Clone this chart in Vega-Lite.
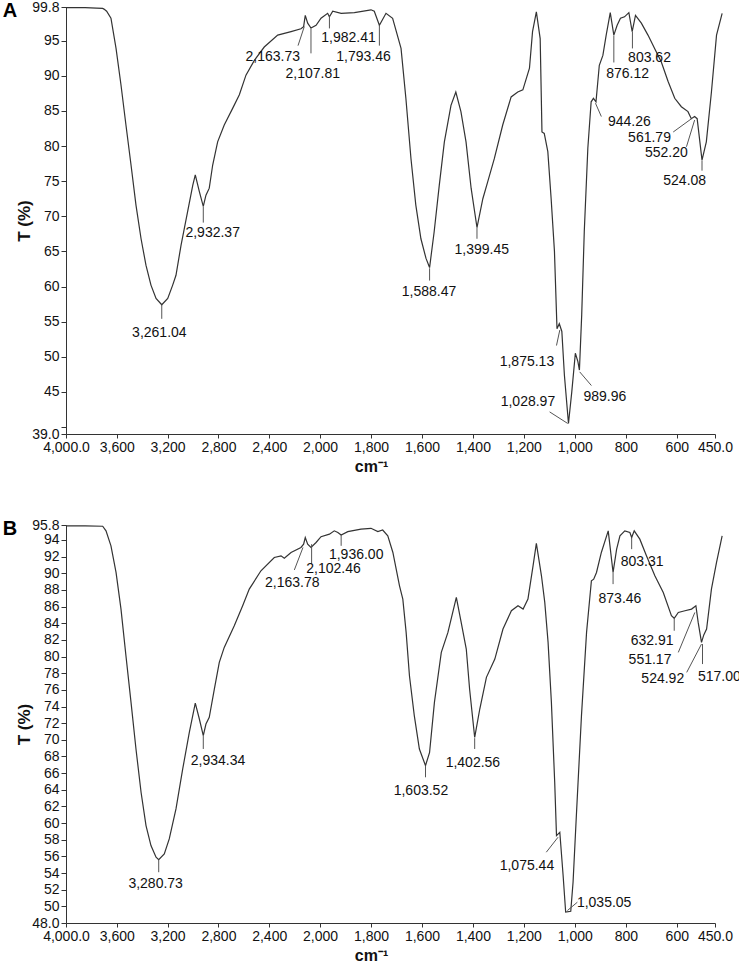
{
  "$schema": "https://vega.github.io/schema/vega-lite/v6.json",
  "padding": {"left": 2, "top": 0, "right": 0, "bottom": 0},
  "background": "white",
  "config": {
    "font": "Liberation Sans",
    "view": {"stroke": null},
    "axis": {
      "labelFont": "Liberation Sans", "labelFontSize": 14, "labelColor": "#111",
      "titleFont": "Liberation Sans", "titleColor": "#111",
      "domainColor": "#333", "tickColor": "#333", "grid": false,
      "labelOverlap": false, "labelFlush": false, "labelBound": false, "tickCount": 100
    }
  },
  "spacing": 44,
  "datasets": {
    "specA": [
      {"wavenumber": 4000, "T": 99.7}, {"wavenumber": 3850, "T": 99.7}, {"wavenumber": 3760, "T": 99.65},
      {"wavenumber": 3711, "T": 99.6}, {"wavenumber": 3701, "T": 99.5}, {"wavenumber": 3680, "T": 99.2},
      {"wavenumber": 3646, "T": 98.2}, {"wavenumber": 3606, "T": 93.9}, {"wavenumber": 3567, "T": 88.7},
      {"wavenumber": 3528, "T": 83.0}, {"wavenumber": 3488, "T": 77.3}, {"wavenumber": 3449, "T": 71.6},
      {"wavenumber": 3409, "T": 66.8}, {"wavenumber": 3370, "T": 63.0}, {"wavenumber": 3331, "T": 60.2},
      {"wavenumber": 3291, "T": 58.3}, {"wavenumber": 3246, "T": 57.4}, {"wavenumber": 3199, "T": 58.3},
      {"wavenumber": 3160, "T": 60.2}, {"wavenumber": 3134, "T": 61.6}, {"wavenumber": 3094, "T": 65.9},
      {"wavenumber": 3042, "T": 70.7}, {"wavenumber": 3002, "T": 74.4}, {"wavenumber": 2982, "T": 75.9},
      {"wavenumber": 2950, "T": 73.5}, {"wavenumber": 2919, "T": 71.4}, {"wavenumber": 2898, "T": 73.0},
      {"wavenumber": 2872, "T": 74.0}, {"wavenumber": 2845, "T": 77.3}, {"wavenumber": 2806, "T": 80.6},
      {"wavenumber": 2754, "T": 83.0}, {"wavenumber": 2687, "T": 85.4}, {"wavenumber": 2635, "T": 87.3},
      {"wavenumber": 2583, "T": 90.1}, {"wavenumber": 2517, "T": 92.2}, {"wavenumber": 2439, "T": 94.1},
      {"wavenumber": 2333, "T": 95.8}, {"wavenumber": 2228, "T": 96.3}, {"wavenumber": 2150, "T": 96.7},
      {"wavenumber": 2129, "T": 97.0}, {"wavenumber": 2116, "T": 98.6}, {"wavenumber": 2097, "T": 97.5},
      {"wavenumber": 2071, "T": 96.8}, {"wavenumber": 2031, "T": 97.2}, {"wavenumber": 1996, "T": 98.2},
      {"wavenumber": 1970, "T": 98.9}, {"wavenumber": 1963, "T": 98.4}, {"wavenumber": 1950, "T": 99.2},
      {"wavenumber": 1917, "T": 98.9}, {"wavenumber": 1865, "T": 99.0}, {"wavenumber": 1800, "T": 99.4},
      {"wavenumber": 1787, "T": 99.2}, {"wavenumber": 1767, "T": 97.2}, {"wavenumber": 1741, "T": 98.9},
      {"wavenumber": 1715, "T": 98.2}, {"wavenumber": 1682, "T": 93.9}, {"wavenumber": 1663, "T": 86.8},
      {"wavenumber": 1643, "T": 78.2}, {"wavenumber": 1624, "T": 71.6}, {"wavenumber": 1604, "T": 66.8},
      {"wavenumber": 1584, "T": 64.0}, {"wavenumber": 1570, "T": 62.7}, {"wavenumber": 1552, "T": 67.8},
      {"wavenumber": 1532, "T": 74.4}, {"wavenumber": 1512, "T": 80.6}, {"wavenumber": 1486, "T": 85.8},
      {"wavenumber": 1467, "T": 87.7}, {"wavenumber": 1447, "T": 84.9}, {"wavenumber": 1427, "T": 80.6},
      {"wavenumber": 1407, "T": 74.0}, {"wavenumber": 1384, "T": 68.4}, {"wavenumber": 1361, "T": 72.5},
      {"wavenumber": 1342, "T": 74.9}, {"wavenumber": 1316, "T": 78.2}, {"wavenumber": 1283, "T": 83.0},
      {"wavenumber": 1250, "T": 87.0}, {"wavenumber": 1224, "T": 87.7}, {"wavenumber": 1204, "T": 88.0},
      {"wavenumber": 1178, "T": 91.1}, {"wavenumber": 1166, "T": 96.3}, {"wavenumber": 1151, "T": 99.1},
      {"wavenumber": 1136, "T": 95.3}, {"wavenumber": 1129, "T": 82.0}, {"wavenumber": 1120, "T": 81.8},
      {"wavenumber": 1106, "T": 79.2}, {"wavenumber": 1093, "T": 72.5}, {"wavenumber": 1080, "T": 65.0},
      {"wavenumber": 1070, "T": 54.0}, {"wavenumber": 1061, "T": 54.7}, {"wavenumber": 1051, "T": 53.6},
      {"wavenumber": 1041, "T": 47.4}, {"wavenumber": 1025, "T": 40.5}, {"wavenumber": 1012, "T": 45.0},
      {"wavenumber": 998, "T": 50.5}, {"wavenumber": 988, "T": 49.3}, {"wavenumber": 982, "T": 48.1},
      {"wavenumber": 973, "T": 56.0}, {"wavenumber": 963, "T": 67.8}, {"wavenumber": 949, "T": 79.7},
      {"wavenumber": 936, "T": 86.3}, {"wavenumber": 927, "T": 86.8}, {"wavenumber": 917, "T": 86.3},
      {"wavenumber": 904, "T": 91.5}, {"wavenumber": 890, "T": 92.9}, {"wavenumber": 877, "T": 95.8},
      {"wavenumber": 861, "T": 99.0}, {"wavenumber": 847, "T": 95.8}, {"wavenumber": 834, "T": 97.2},
      {"wavenumber": 821, "T": 98.2}, {"wavenumber": 805, "T": 98.4}, {"wavenumber": 788, "T": 99.0},
      {"wavenumber": 775, "T": 96.3}, {"wavenumber": 762, "T": 98.6}, {"wavenumber": 739, "T": 97.5},
      {"wavenumber": 713, "T": 95.8}, {"wavenumber": 687, "T": 93.9}, {"wavenumber": 661, "T": 92.0},
      {"wavenumber": 634, "T": 89.2}, {"wavenumber": 608, "T": 86.8}, {"wavenumber": 582, "T": 85.6},
      {"wavenumber": 556, "T": 84.9}, {"wavenumber": 543, "T": 83.9}, {"wavenumber": 530, "T": 84.2},
      {"wavenumber": 520, "T": 83.9}, {"wavenumber": 501, "T": 78.0}, {"wavenumber": 484, "T": 80.6},
      {"wavenumber": 464, "T": 87.7}, {"wavenumber": 444, "T": 95.8}, {"wavenumber": 422, "T": 98.9}
    ],
    "specB": [
      {"wavenumber": 4000, "T": 95.7}, {"wavenumber": 3850, "T": 95.7}, {"wavenumber": 3711, "T": 95.65},
      {"wavenumber": 3685, "T": 95.1}, {"wavenumber": 3646, "T": 93.3}, {"wavenumber": 3606, "T": 90.1},
      {"wavenumber": 3567, "T": 85.7}, {"wavenumber": 3528, "T": 80.1}, {"wavenumber": 3488, "T": 74.5},
      {"wavenumber": 3449, "T": 68.9}, {"wavenumber": 3409, "T": 63.7}, {"wavenumber": 3370, "T": 59.7},
      {"wavenumber": 3331, "T": 57.3}, {"wavenumber": 3291, "T": 55.9}, {"wavenumber": 3270, "T": 55.6},
      {"wavenumber": 3226, "T": 56.3}, {"wavenumber": 3187, "T": 58.1}, {"wavenumber": 3134, "T": 61.7},
      {"wavenumber": 3081, "T": 66.5}, {"wavenumber": 3029, "T": 70.9}, {"wavenumber": 2982, "T": 74.4},
      {"wavenumber": 2950, "T": 72.5}, {"wavenumber": 2919, "T": 70.5}, {"wavenumber": 2898, "T": 71.9},
      {"wavenumber": 2872, "T": 72.7}, {"wavenumber": 2832, "T": 76.1}, {"wavenumber": 2793, "T": 79.3},
      {"wavenumber": 2754, "T": 81.1}, {"wavenumber": 2675, "T": 83.7}, {"wavenumber": 2609, "T": 86.1},
      {"wavenumber": 2557, "T": 88.1}, {"wavenumber": 2465, "T": 90.3}, {"wavenumber": 2360, "T": 91.9},
      {"wavenumber": 2307, "T": 92.1}, {"wavenumber": 2281, "T": 91.8}, {"wavenumber": 2228, "T": 92.5},
      {"wavenumber": 2150, "T": 93.1}, {"wavenumber": 2129, "T": 93.5}, {"wavenumber": 2116, "T": 94.3},
      {"wavenumber": 2097, "T": 93.5}, {"wavenumber": 2071, "T": 93.1}, {"wavenumber": 2031, "T": 93.7},
      {"wavenumber": 1996, "T": 94.4}, {"wavenumber": 1963, "T": 94.7}, {"wavenumber": 1944, "T": 95.1},
      {"wavenumber": 1930, "T": 94.9}, {"wavenumber": 1917, "T": 94.6}, {"wavenumber": 1891, "T": 95.0},
      {"wavenumber": 1839, "T": 95.3}, {"wavenumber": 1800, "T": 95.4}, {"wavenumber": 1773, "T": 95.0},
      {"wavenumber": 1754, "T": 95.2}, {"wavenumber": 1734, "T": 94.5}, {"wavenumber": 1714, "T": 92.5},
      {"wavenumber": 1688, "T": 88.5}, {"wavenumber": 1675, "T": 86.9}, {"wavenumber": 1662, "T": 82.9},
      {"wavenumber": 1649, "T": 77.7}, {"wavenumber": 1630, "T": 72.9}, {"wavenumber": 1610, "T": 68.9},
      {"wavenumber": 1586, "T": 66.9}, {"wavenumber": 1570, "T": 68.5}, {"wavenumber": 1551, "T": 74.5},
      {"wavenumber": 1524, "T": 80.5}, {"wavenumber": 1498, "T": 82.9}, {"wavenumber": 1465, "T": 87.1},
      {"wavenumber": 1446, "T": 84.1}, {"wavenumber": 1426, "T": 80.9}, {"wavenumber": 1413, "T": 76.1},
      {"wavenumber": 1393, "T": 70.3}, {"wavenumber": 1373, "T": 73.7}, {"wavenumber": 1347, "T": 77.5},
      {"wavenumber": 1314, "T": 79.7}, {"wavenumber": 1282, "T": 83.3}, {"wavenumber": 1249, "T": 85.5},
      {"wavenumber": 1223, "T": 86.1}, {"wavenumber": 1203, "T": 85.7}, {"wavenumber": 1184, "T": 86.9},
      {"wavenumber": 1164, "T": 90.9}, {"wavenumber": 1151, "T": 93.6}, {"wavenumber": 1131, "T": 89.7},
      {"wavenumber": 1118, "T": 86.5}, {"wavenumber": 1105, "T": 81.7}, {"wavenumber": 1092, "T": 74.5},
      {"wavenumber": 1079, "T": 64.9}, {"wavenumber": 1072, "T": 58.5}, {"wavenumber": 1059, "T": 58.9},
      {"wavenumber": 1046, "T": 53.7}, {"wavenumber": 1036, "T": 49.3}, {"wavenumber": 1016, "T": 49.4},
      {"wavenumber": 1007, "T": 52.9}, {"wavenumber": 994, "T": 60.9}, {"wavenumber": 974, "T": 72.9},
      {"wavenumber": 954, "T": 82.9}, {"wavenumber": 935, "T": 89.1}, {"wavenumber": 926, "T": 89.3},
      {"wavenumber": 915, "T": 90.1}, {"wavenumber": 896, "T": 92.5}, {"wavenumber": 869, "T": 95.1},
      {"wavenumber": 850, "T": 90.1}, {"wavenumber": 836, "T": 92.9}, {"wavenumber": 823, "T": 94.5},
      {"wavenumber": 804, "T": 95.1}, {"wavenumber": 784, "T": 94.9}, {"wavenumber": 777, "T": 94.3},
      {"wavenumber": 767, "T": 95.1}, {"wavenumber": 745, "T": 94.1}, {"wavenumber": 719, "T": 92.1},
      {"wavenumber": 686, "T": 89.7}, {"wavenumber": 653, "T": 87.7}, {"wavenumber": 621, "T": 84.9},
      {"wavenumber": 610, "T": 84.6}, {"wavenumber": 594, "T": 85.3}, {"wavenumber": 568, "T": 85.5},
      {"wavenumber": 542, "T": 85.7}, {"wavenumber": 525, "T": 86.1}, {"wavenumber": 516, "T": 84.1},
      {"wavenumber": 503, "T": 81.7}, {"wavenumber": 494, "T": 82.6}, {"wavenumber": 483, "T": 83.3},
      {"wavenumber": 464, "T": 88.1}, {"wavenumber": 444, "T": 91.3}, {"wavenumber": 422, "T": 94.5}
    ],
    "annA": [
      {"label": "3,261.04", "tx": 3265, "ty": 53.4, "x1": 3246, "y1": 57.4, "x2": 3246, "y2": 55.4},
      {"label": "2,932.37", "tx": 2845, "ty": 67.55, "x1": 2919, "y1": 71.4, "x2": 2919, "y2": 69.1},
      {"label": "2,163.73", "tx": 2372, "ty": 92.7, "x1": 2173, "y1": 94.3, "x2": 2124, "y2": 97.0},
      {"label": "2,107.81", "tx": 2057, "ty": 90.3, "x1": 2071, "y1": 96.75, "x2": 2071, "y2": 93.2},
      {"label": "1,982.41", "tx": 1888, "ty": 95.4, "x1": 1963, "y1": 98.5, "x2": 1963, "y2": 96.75},
      {"label": "1,793.46", "tx": 1829, "ty": 92.7, "x1": 1767, "y1": 97.2, "x2": 1767, "y2": 94.3},
      {"label": "1,588.47", "tx": 1572, "ty": 59.25, "x1": 1570, "y1": 62.6, "x2": 1570, "y2": 60.85},
      {"label": "1,399.45", "tx": 1365, "ty": 65.2, "x1": 1384, "y1": 68.4, "x2": 1384, "y2": 66.8},
      {"label": "1,875.13", "tx": 1188, "ty": 49.3, "x1": 1072, "y1": 51.6, "x2": 1059, "y2": 53.8},
      {"label": "1,028.97", "tx": 1184, "ty": 43.6, "x1": 1099, "y1": 42.15, "x2": 1028, "y2": 40.5},
      {"label": "989.96", "tx": 882, "ty": 44.3, "x1": 981, "y1": 47.85, "x2": 935, "y2": 45.9},
      {"label": "944.26", "tx": 786, "ty": 83.4, "x1": 919, "y1": 86.1, "x2": 896, "y2": 84.2},
      {"label": "876.12", "tx": 793, "ty": 90.2, "x1": 847, "y1": 95.75, "x2": 847, "y2": 91.9},
      {"label": "803.62", "tx": 707, "ty": 92.5, "x1": 774, "y1": 96.3, "x2": 774, "y2": 93.9},
      {"label": "561.79", "tx": 707, "ty": 81.2, "x1": 614, "y1": 82.0, "x2": 542, "y2": 83.9},
      {"label": "552.20", "tx": 641, "ty": 79.05, "x1": 562, "y1": 79.9, "x2": 530, "y2": 83.7},
      {"label": "524.08", "tx": 569, "ty": 75.0, "x1": 501, "y1": 77.95, "x2": 501, "y2": 76.5}
    ],
    "annB": [
      {"label": "3,280.73", "tx": 3294, "ty": 52.7, "x1": 3270, "y1": 55.6, "x2": 3270, "y2": 54.1},
      {"label": "2,934.34", "tx": 2803, "ty": 67.5, "x1": 2919, "y1": 70.5, "x2": 2919, "y2": 68.9},
      {"label": "2,163.78", "tx": 2218, "ty": 88.8, "x1": 2202, "y1": 90.4, "x2": 2134, "y2": 93.1},
      {"label": "2,102.46", "tx": 1947, "ty": 90.5, "x1": 2066, "y1": 93.5, "x2": 2066, "y2": 91.1},
      {"label": "1,936.00", "tx": 1858, "ty": 92.2, "x1": 1917, "y1": 94.6, "x2": 1917, "y2": 93.3},
      {"label": "1,603.52", "tx": 1604, "ty": 63.8, "x1": 1586, "y1": 66.9, "x2": 1586, "y2": 65.5},
      {"label": "1,402.56", "tx": 1400, "ty": 67.2, "x1": 1393, "y1": 70.2, "x2": 1393, "y2": 68.9},
      {"label": "1,075.44", "tx": 1188, "ty": 54.9, "x1": 1112, "y1": 56.5, "x2": 1066, "y2": 58.3},
      {"label": "1,035.05", "tx": 885, "ty": 50.35, "x1": 990, "y1": 50.5, "x2": 1029, "y2": 49.5},
      {"label": "873.46", "tx": 823, "ty": 86.9, "x1": 850, "y1": 90.1, "x2": 850, "y2": 88.7},
      {"label": "803.31", "tx": 736, "ty": 91.4, "x1": 777, "y1": 94.3, "x2": 777, "y2": 92.9},
      {"label": "632.91", "tx": 697, "ty": 81.9, "x1": 610, "y1": 84.6, "x2": 610, "y2": 83.1},
      {"label": "551.17", "tx": 705, "ty": 79.6, "x1": 594, "y1": 80.5, "x2": 529, "y2": 85.3},
      {"label": "524.92", "tx": 655, "ty": 77.3, "x1": 561, "y1": 78.1, "x2": 503, "y2": 81.5},
      {"label": "517.00", "tx": 433, "ty": 77.5, "x1": 499, "y1": 81.5, "x2": 499, "y2": 79.1}
    ]
  },
  "vconcat": [
    {
      "width": 649, "height": 427,
      "title": {"text": "A", "anchor": "start", "frame": "bounds", "offset": -21, "dx": -13, "fontSize": 20, "fontWeight": "bold", "font": "Liberation Sans", "color": "#000"},
      "layer": [
        {
          "data": {"name": "specA"},
          "mark": {"type": "line", "color": "#333", "strokeWidth": 1.2},
          "encoding": {
            "x": {"field": "wavenumber", "type": "quantitative", "title": "cm⁻¹",
              "scale": {"domain": [4000, 2000, 450], "range": [0, 254, 649], "nice": false, "zero": false},
              "axis": {"values": [4000, 3600, 3200, 2800, 2400, 2000, 1800, 1600, 1400, 1200, 1000, 800, 600, 450],
                "labelExpr": "datum.value == 4000 ? '4,000.0' : datum.value == 450 ? '450.0' : format(datum.value, ',')",
                "titleFontSize": 16, "titleFontWeight": "bold", "titlePadding": 4, "titleX": 305, "tickSize": 4, "labelPadding": 2}},
            "y": {"field": "T", "type": "quantitative", "title": "T (%)",
              "scale": {"domain": [39, 99.8], "nice": false, "zero": false},
              "axis": {"values": [39, 40, 45, 50, 55, 60, 65, 70, 75, 80, 85, 90, 95, 99.8],
                "labelExpr": "datum.value == 39 ? '39.0' : datum.value == 99.8 ? '99.8' : datum.value == 40 ? '' : format(datum.value, 'd')",
                "titleFontSize": 17, "titleFontWeight": "bold", "titlePadding": -2, "tickSize": 5, "labelPadding": 2}}
          }
        },
        {
          "data": {"name": "annA"},
          "mark": {"type": "rule", "color": "#555", "strokeWidth": 1},
          "encoding": {
            "x": {"field": "x1", "type": "quantitative", "title": "cm⁻¹"},
            "y": {"field": "y1", "type": "quantitative", "title": "T (%)"},
            "x2": {"field": "x2"}, "y2": {"field": "y2"}
          }
        },
        {
          "data": {"name": "annA"},
          "mark": {"type": "text", "fontSize": 14, "align": "center", "baseline": "middle", "color": "#111", "font": "Liberation Sans"},
          "encoding": {
            "x": {"field": "tx", "type": "quantitative", "title": "cm⁻¹"},
            "y": {"field": "ty", "type": "quantitative", "title": "T (%)"},
            "text": {"field": "label"}
          }
        }
      ]
    },
    {
      "width": 649, "height": 398,
      "title": {"text": "B", "anchor": "start", "frame": "bounds", "offset": -21, "dx": -13, "fontSize": 20, "fontWeight": "bold", "font": "Liberation Sans", "color": "#000"},
      "layer": [
        {
          "data": {"name": "specB"},
          "mark": {"type": "line", "color": "#333", "strokeWidth": 1.2},
          "encoding": {
            "x": {"field": "wavenumber", "type": "quantitative", "title": "cm⁻¹",
              "scale": {"domain": [4000, 2000, 450], "range": [0, 254, 649], "nice": false, "zero": false},
              "axis": {"values": [4000, 3600, 3200, 2800, 2400, 2000, 1800, 1600, 1400, 1200, 1000, 800, 600, 450],
                "labelExpr": "datum.value == 4000 ? '4,000.0' : datum.value == 450 ? '450.0' : format(datum.value, ',')",
                "titleFontSize": 16, "titleFontWeight": "bold", "titlePadding": 4, "titleX": 305, "tickSize": 4, "labelPadding": 2}},
            "y": {"field": "T", "type": "quantitative", "title": "T (%)",
              "scale": {"domain": [48, 95.8], "nice": false, "zero": false},
              "axis": {"values": [48, 50, 52, 54, 56, 58, 60, 62, 64, 66, 68, 70, 72, 74, 76, 78, 80, 82, 84, 86, 88, 90, 92, 94, 95.8],
                "labelExpr": "datum.value == 48 ? '48.0' : datum.value == 95.8 ? '95.8' : format(datum.value, 'd')",
                "titleFontSize": 17, "titleFontWeight": "bold", "titlePadding": -2, "tickSize": 5, "labelPadding": 2}}
          }
        },
        {
          "data": {"name": "annB"},
          "mark": {"type": "rule", "color": "#555", "strokeWidth": 1},
          "encoding": {
            "x": {"field": "x1", "type": "quantitative", "title": "cm⁻¹"},
            "y": {"field": "y1", "type": "quantitative", "title": "T (%)"},
            "x2": {"field": "x2"}, "y2": {"field": "y2"}
          }
        },
        {
          "data": {"name": "annB"},
          "mark": {"type": "text", "fontSize": 14, "align": "center", "baseline": "middle", "color": "#111", "font": "Liberation Sans"},
          "encoding": {
            "x": {"field": "tx", "type": "quantitative", "title": "cm⁻¹"},
            "y": {"field": "ty", "type": "quantitative", "title": "T (%)"},
            "text": {"field": "label"}
          }
        }
      ]
    }
  ]
}
